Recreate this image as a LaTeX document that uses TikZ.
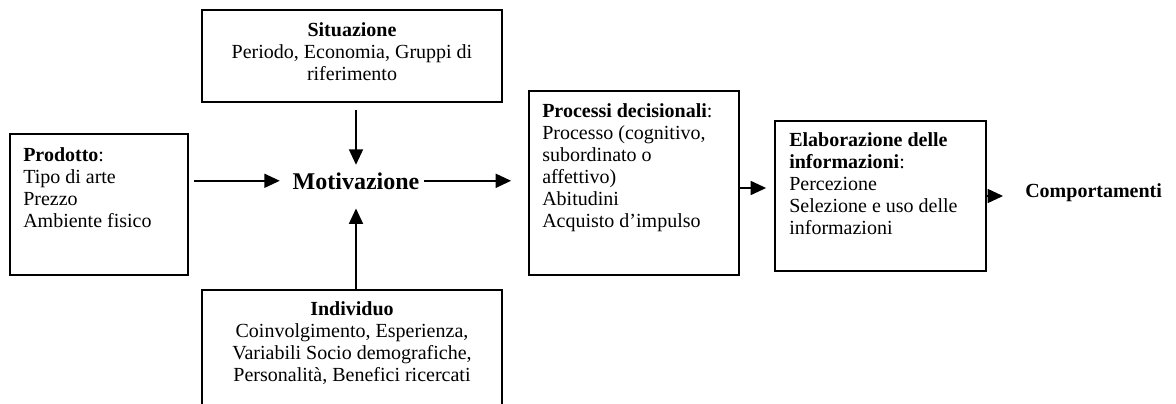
\documentclass[tikz,border=0pt]{standalone}
\usepackage{fontspec}
\setmainfont{Liberation Serif}
\usetikzlibrary{arrows.meta,fit,calc}
\tikzset{
  box/.style={draw, line width=1.4pt, inner sep=0pt},
  txt/.style={inner sep=0pt, font=\fontsize{15}{16.5}\selectfont},
  lbl/.style={inner sep=0pt},
  arr/.style={line width=1.1pt, -{Triangle[length=11.5pt,width=10.5pt]}},
}
\begin{document}
\begin{tikzpicture}[x=0.75pt,y=-0.75pt]
\fill[white] (0,0) rectangle (1176,403);
\useasboundingbox (0,0) rectangle (1176,403);

% boxes
\node[box, fit={(202,10) (502,102)}] (sit) {};
\node[box, fit={(10,134) (188,275)}] (prod) {};
\node[box, fit={(202,290) (502,408)}] (ind) {};
\node[box, fit={(529,91) (739,275)}] (proc) {};
\node[box, fit={(775,121) (986,271)}] (elab) {};

% box texts
\node[txt, align=center, anchor=north] (sit-t) at (352,22)
  {\textbf{Situazione}\\Periodo, Economia, Gruppi di\\riferimento};
\node[txt, align=left, anchor=north west] (prod-t) at (23,147)
  {\textbf{Prodotto}:\\Tipo di arte\\Prezzo\\Ambiente fisico};
\node[txt, align=center, anchor=north] (ind-t) at (352,301)
  {\textbf{Individuo}\\Coinvolgimento, Esperienza,\\Variabili Socio demografiche,\\Personalità, Benefici ricercati};
\node[txt, align=left, anchor=north west] (proc-t) at (542,103)
  {\textbf{Processi decisionali}:\\Processo (cognitivo,\\subordinato o\\affettivo)\\Abitudini\\Acquisto d’impulso};
\node[txt, align=left, anchor=north west] (elab-t) at (789,132)
  {\textbf{Elaborazione delle}\\\textbf{informazioni}:\\Percezione\\Selezione e uso delle\\informazioni};

% free labels
\node[lbl, font=\fontsize{18}{21}\selectfont\bfseries, anchor=base] (moti) at (356,189) {Motivazione};
\node[lbl, font=\fontsize{15}{16.5}\selectfont\bfseries, anchor=base west] (comp) at (1025,197) {Comportamenti};

% connectors
\draw[arr, shorten <=3.75pt, shorten >=9.5pt] (prod.east |- moti.west) -- (moti.west);
\draw[arr, shorten <=3.5pt, shorten >=12.75pt] (moti.east) -- (moti.east -| proc.west);
\draw[arr, shorten <=5pt, shorten >=5.5pt] (moti.north |- sit.south) -- (moti.north);
\draw[arr, shorten >=14.25pt] (moti.south |- ind.north) -- (moti.south);
\draw[arr, shorten >=6pt] ([yshift=-3.75pt]proc.east) -- ([yshift=-3.75pt]proc.east -| elab.west);
\draw[arr, shorten >=16.5pt] (elab.east) -- (elab.east -| comp.west);
\end{tikzpicture}
\end{document}
